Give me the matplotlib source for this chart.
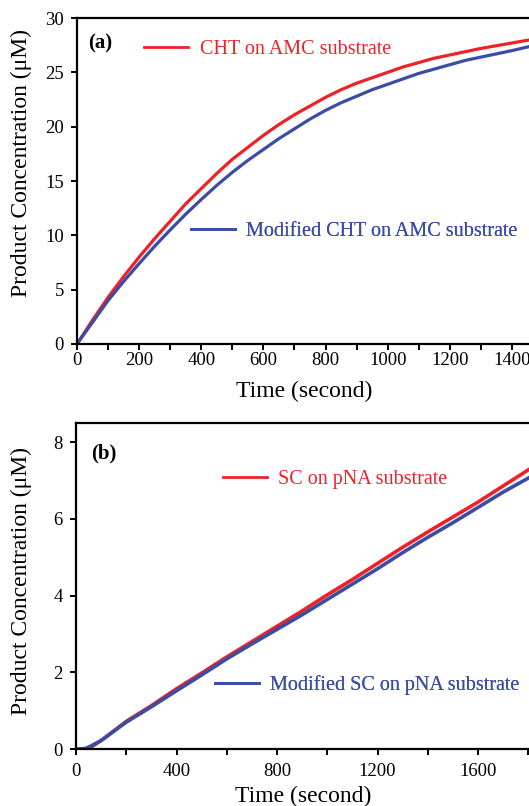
import matplotlib
matplotlib.use("Agg")
import matplotlib.pyplot as plt
from matplotlib.ticker import MultipleLocator

# panel (a): CHT on AMC substrate
tempo_a = [0, 50, 100, 150, 200, 250, 300, 350, 400, 450, 500, 550, 600,
           650, 700, 750, 800, 850, 900, 950, 1000, 1050, 1100, 1150,
           1200, 1250, 1300, 1350, 1400, 1460]
cht = [0, 2.2, 4.3, 6.2, 8.0, 9.7, 11.3, 12.9, 14.3, 15.7, 17.0, 18.1,
       19.2, 20.2, 21.1, 21.9, 22.7, 23.4, 24.0, 24.5, 25.0, 25.5, 25.9,
       26.3, 26.6, 26.9, 27.2, 27.45, 27.7, 28.0]
cht_mod = [0, 2.0, 4.0, 5.75, 7.4, 9.0, 10.5, 11.95, 13.3, 14.6, 15.8,
           16.9, 17.9, 18.9, 19.8, 20.7, 21.5, 22.2, 22.8, 23.4, 23.9,
           24.4, 24.9, 25.3, 25.7, 26.1, 26.4, 26.7, 27.0, 27.4]

# panel (b): SC on pNA substrate
tempo_b = [0, 20, 40, 60, 100, 200, 300, 400, 500, 600, 700, 800, 900,
           1000, 1100, 1200, 1300, 1400, 1500, 1600, 1700, 1810]
sc = [0.0, 0.0, 0.0, 0.05, 0.22, 0.72, 1.13, 1.57, 1.98, 2.40, 2.80,
      3.20, 3.60, 4.02, 4.42, 4.84, 5.26, 5.66, 6.05, 6.44, 6.86, 7.32]
sc_mod = [0.0, 0.0, 0.02, 0.08, 0.22, 0.70, 1.10, 1.52, 1.93, 2.35,
          2.74, 3.12, 3.50, 3.90, 4.30, 4.70, 5.12, 5.52, 5.90, 6.30,
          6.70, 7.10]

leg_a = ["CHT on AMC substrate", "Modified CHT on AMC substrate"]
leg_b = ["SC on pNA substrate", "Modified SC on pNA substrate"]

VERMELHO = "#ED2229"
AZUL = "#3A4DA6"

plt.rcParams["font.family"] = ["Liberation Serif", "DejaVu Serif"]

W, H = 529, 806
fig = plt.figure(figsize=(W / 100, H / 100), dpi=100)

# axes in pixel terms; right side ends at the figure edge like the crop
ax1 = fig.add_axes([77 / W, (H - 344) / H, 453.6 / W, 326 / H])
ax2 = fig.add_axes([76 / W, (H - 749) / H, 453.6 / W, 326 / H])


def estilo(ax, pad_x, pad_label):
    for lado in ["left", "top", "bottom"]:
        ax.spines[lado].set_linewidth(1.6)
    ax.spines["right"].set_visible(False)
    ax.tick_params(axis="both", which="both", direction="out",
                   width=1.4, labelsize=13.5, top=False, right=False)
    ax.tick_params(axis="x", which="major", length=4, pad=pad_x)
    ax.tick_params(axis="x", which="minor", length=4)
    ax.tick_params(axis="y", which="major", length=4.5, pad=5)
    ax.set_xlabel("Time (second)", fontsize=17, labelpad=pad_label)
    ax.set_ylabel("Product Concentration (\u03bcM)", fontsize=17)


def legenda(ax, linha, texto, cor, x, y):
    leg = ax.legend([linha], [texto], loc="center left",
                    bbox_to_anchor=(x, y), frameon=False, fontsize=14.5,
                    handlelength=2.2, handletextpad=0.55, borderpad=0,
                    borderaxespad=0)
    for t in leg.get_texts():
        t.set_color(cor)
    for h in leg.get_lines():
        h.set_linewidth(2.0)
    ax.add_artist(leg)


# (a)
l1, = ax1.plot(tempo_a, cht, color=VERMELHO, lw=2.3)
l2, = ax1.plot(tempo_a, cht_mod, color=AZUL, lw=2.3)
ax1.set_xlim(0, 1460)
ax1.set_ylim(0, 30)
ax1.xaxis.set_major_locator(MultipleLocator(200))
ax1.xaxis.set_minor_locator(MultipleLocator(100))
ax1.yaxis.set_major_locator(MultipleLocator(5))
estilo(ax1, 2, 8)
ax1.yaxis.set_label_coords(-0.0992, 0.555)
ax1.text(0.024, 0.923, "(a)", transform=ax1.transAxes, fontsize=15,
         fontweight="bold", va="center", ha="left")
legenda(ax1, l1, leg_a[0], VERMELHO, 0.148, 0.902)
legenda(ax1, l2, leg_a[1], AZUL, 0.251, 0.344)

# (b)
l3, = ax2.plot(tempo_b, sc, color=VERMELHO, lw=2.6)
l4, = ax2.plot(tempo_b, sc_mod, color=AZUL, lw=2.6)
ax2.set_xlim(0, 1805)
ax2.set_ylim(0, 8.5)
ax2.xaxis.set_major_locator(MultipleLocator(400))
ax2.xaxis.set_minor_locator(MultipleLocator(200))
ax2.yaxis.set_major_locator(MultipleLocator(2))
estilo(ax2, 6, 4)
ax2.yaxis.set_label_coords(-0.097, 0.515)
ax2.text(0.033, 0.908, "(b)", transform=ax2.transAxes, fontsize=15,
         fontweight="bold", va="center", ha="left")
legenda(ax2, l3, leg_b[0], VERMELHO, 0.324, 0.828)
legenda(ax2, l4, leg_b[1], AZUL, 0.306, 0.196)

fig.savefig("out.png", dpi=100)
